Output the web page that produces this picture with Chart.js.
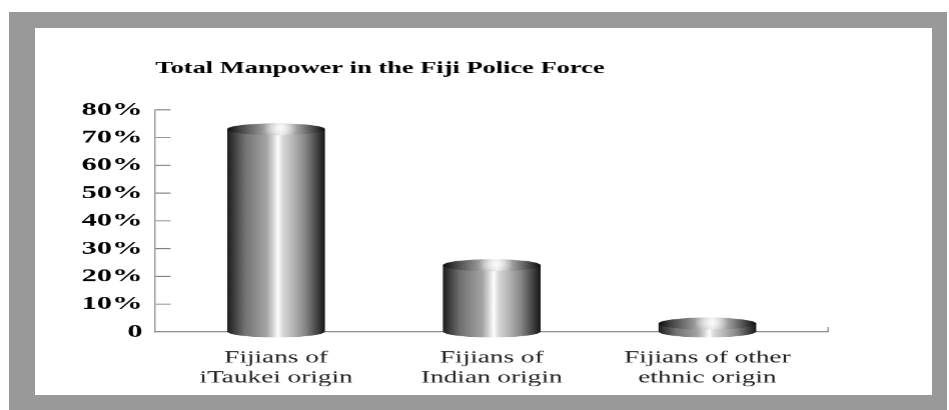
<!DOCTYPE html>
<html>
<head>
<meta charset="utf-8">
<script src="https://cdn.jsdelivr.net/npm/chart.js"></script>
<style>
  body { margin: 0; background: #fff; width: 949px; height: 410px; overflow: hidden; }
  #frame { position: absolute; left: 9px; top: 12px; width: 938px; height: 398px; background: #999; }
  #inner { position: absolute; left: 35px; top: 28px; width: 897px; height: 367px; background: #fff; }
  #myChart { position: absolute; left: 0; top: 0; }
</style>
</head>
<body>
<div id="frame"></div>
<div id="inner"></div>
<!-- the original picture is squeezed wide, so the chart is drawn narrow and stretched 1.6x -->
<canvas id="myChart" width="593" height="410" style="width:949px;height:410px"></canvas>
<script>
const categories = [
  ["Fijians of", "iTaukei origin"],
  ["Fijians of", "Indian origin"],
  ["Fijians of other", "ethnic origin"]
];
const shares = [73, 24, 3];
const yTickLabels = ["0", "10%", "20%", "30%", "40%", "50%", "60%", "70%", "80%"];

const serif = "'Liberation Serif', 'Times New Roman', serif";
const axisColor = "#7c7c7c";

// inward tick marks on the y axis and the little end tick of the x axis
const inwardTicks = {
  id: "inwardTicks",
  afterDraw(chart) {
    const ctx = chart.ctx, a = chart.chartArea, ys = chart.scales.y;
    ctx.save();
    ctx.strokeStyle = axisColor;
    ctx.lineWidth = 1;
    ys.ticks.forEach(t => {
      if (t.value === 0) return;
      const py = ys.getPixelForValue(t.value);
      ctx.beginPath();
      ctx.moveTo(a.left, py);
      ctx.lineTo(a.left + 9.5, py);
      ctx.stroke();
    });
    ctx.lineWidth = 0.7;
    ctx.beginPath();
    ctx.moveTo(a.right, a.bottom);
    ctx.lineTo(a.right, a.bottom - 5);
    ctx.stroke();
    ctx.restore();
  }
};

// metallic cylinders drawn over the (transparent) bars
const cylinders = {
  id: "cylinders",
  afterDatasetsDraw(chart) {
    const ctx = chart.ctx;
    chart.getDatasetMeta(0).data.forEach(bar => {
      const { x, y, base, width } = bar.getProps(["x", "y", "base", "width"], true);
      const rx = width / 2, ry = 6;
      const l = x - rx, r = x + rx;

      const body = ctx.createLinearGradient(l, 0, r, 0);
      body.addColorStop(0, "#1c1c1c");
      body.addColorStop(0.07, "#3e3e3e");
      body.addColorStop(0.18, "#727272");
      body.addColorStop(0.3, "#8d8d8d");
      body.addColorStop(0.4, "#a3a3a3");
      body.addColorStop(0.47, "#d4d4d4");
      body.addColorStop(0.52, "#ffffff");
      body.addColorStop(0.57, "#d6d6d6");
      body.addColorStop(0.68, "#b3b3b3");
      body.addColorStop(0.8, "#868686");
      body.addColorStop(0.9, "#4e4e4e");
      body.addColorStop(1, "#161616");

      ctx.save();
      ctx.beginPath();
      ctx.moveTo(l, y);
      ctx.lineTo(l, base);
      ctx.ellipse(x, base, rx, ry, 0, Math.PI, 0, true);
      ctx.lineTo(r, y);
      ctx.closePath();
      ctx.fillStyle = body;
      ctx.fill();

      const top = ctx.createLinearGradient(l, 0, r, 0);
      top.addColorStop(0, "#0c0c0c");
      top.addColorStop(0.12, "#404040");
      top.addColorStop(0.33, "#8a8a8a");
      top.addColorStop(0.55, "#e2e2e2");
      top.addColorStop(0.72, "#9a9a9a");
      top.addColorStop(0.88, "#4a4a4a");
      top.addColorStop(1, "#0c0c0c");
      ctx.beginPath();
      ctx.ellipse(x, y, rx, ry, 0, 0, Math.PI * 2);
      ctx.fillStyle = top;
      ctx.fill();

      const shine = ctx.createRadialGradient(x + rx * 0.08, y - 1, 0, x + rx * 0.08, y - 1, rx * 0.35);
      shine.addColorStop(0, "rgba(255,255,255,0.9)");
      shine.addColorStop(1, "rgba(255,255,255,0)");
      ctx.fillStyle = shine;
      ctx.fill();
      ctx.restore();
    });
  }
};

new Chart(document.getElementById("myChart"), {
  type: "bar",
  data: {
    datasets: [{
      data: shares.map((v, i) => ({ x: i, y: v })),
      backgroundColor: "rgba(0,0,0,0)",
      borderWidth: 0,
      barThickness: 61
    }]
  },
  options: {
    responsive: false,
    devicePixelRatio: 1.6,
    animation: false,
    layout: { padding: { top: 44, right: 76, bottom: 6, left: 0 } },
    plugins: {
      legend: { display: false },
      tooltip: { enabled: false },
      title: {
        display: true,
        text: "Total Manpower in the Fiji Police Force",
        align: "start",
        fullSize: false,
        color: "#000",
        font: { family: serif, size: 16.5, weight: "bold" },
        padding: { top: 15, bottom: 31 }
      }
    },
    scales: {
      x: {
        type: "linear",
        min: -0.56,
        max: 2.56,
        offset: false,
        afterBuildTicks: s => { s.ticks = categories.map((c, i) => ({ value: i })); },
        grid: { drawOnChartArea: false, drawTicks: false },
        border: { color: axisColor, width: 1 },
        ticks: {
          callback: v => categories[v],
          color: "#222",
          padding: 16,
          maxRotation: 0,
          autoSkip: false,
          font: { family: serif, size: 17, lineHeight: 1.18 }
        }
      },
      y: {
        min: 0,
        max: 80,
        afterFit: s => { s.width = 97; },
        grid: { drawOnChartArea: false, drawTicks: false },
        border: { color: axisColor, width: 0.7 },
        ticks: {
          stepSize: 10,
          callback: (v, i) => yTickLabels[i],
          color: "#000",
          padding: 8,
          font: { family: serif, size: 19, weight: "bold" }
        }
      }
    }
  },
  plugins: [inwardTicks, cylinders]
});
</script>
</body>
</html>
